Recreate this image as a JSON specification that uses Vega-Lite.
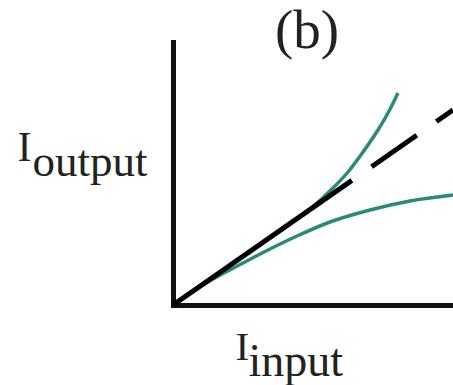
{
  "$schema": "https://vega.github.io/schema/vega-lite/v6.json",
  "width": 280,
  "height": 263,
  "autosize": {"type": "none"},
  "padding": {"left": 173, "top": 42, "right": 0, "bottom": 80},
  "background": "white",
  "title": {"text": "(b)", "font": "Liberation Serif", "fontSize": 55, "fontWeight": "normal", "color": "#222", "anchor": "middle", "frame": "group", "baseline": "alphabetic", "offset": 0, "dx": -6, "dy": 61},
  "config": {"view": {"stroke": null}},
  "datasets": {
    "curves": [
      {"curve": "gain", "x": 0, "y": 0},
      {"curve": "gain", "x": 40, "y": 28},
      {"curve": "gain", "x": 80, "y": 56},
      {"curve": "gain", "x": 120, "y": 83.5},
      {"curve": "gain", "x": 140, "y": 98.5},
      {"curve": "gain", "x": 160, "y": 117},
      {"curve": "gain", "x": 175, "y": 133},
      {"curve": "gain", "x": 190, "y": 153},
      {"curve": "gain", "x": 205, "y": 175},
      {"curve": "gain", "x": 215, "y": 192},
      {"curve": "gain", "x": 225, "y": 212},
      {"curve": "saturation", "x": 0, "y": 0},
      {"curve": "saturation", "x": 30, "y": 20},
      {"curve": "saturation", "x": 70, "y": 42},
      {"curve": "saturation", "x": 97, "y": 56},
      {"curve": "saturation", "x": 124, "y": 69},
      {"curve": "saturation", "x": 157, "y": 83},
      {"curve": "saturation", "x": 197, "y": 95},
      {"curve": "saturation", "x": 237, "y": 104},
      {"curve": "saturation", "x": 280, "y": 110},
      {"curve": "linear", "x": 0, "y": 0},
      {"curve": "linear", "x": 280, "y": 195}
    ]
  },
  "data": {"name": "curves"},
  "resolve": {"axis": {"x": "independent", "y": "independent"}},
  "layer": [
    {
      "transform": [{"filter": "datum.curve !== 'linear'"}],
      "mark": {"type": "line", "interpolate": "monotone", "color": "#2a8a78", "strokeWidth": 3.5, "clip": true},
      "encoding": {
        "detail": {"field": "curve"},
        "x": {
          "field": "x", "type": "quantitative",
          "scale": {"domain": [0, 280], "nice": false, "zero": true},
          "axis": {"orient": "bottom", "title": "input", "labels": false, "ticks": false, "grid": false, "domain": true, "domainColor": "#111", "domainWidth": 5, "domainCap": "square", "titleX": 75, "titleY": 70, "titleAlign": "left", "titleBaseline": "alphabetic", "titleAngle": 0, "titleFont": "Liberation Serif", "titleFontSize": 46, "titleFontWeight": "normal", "titleColor": "#222"}
        },
        "y": {
          "field": "y", "type": "quantitative",
          "scale": {"domain": [0, 263], "nice": false, "zero": true},
          "axis": {"orient": "left", "title": "output", "labels": false, "ticks": false, "grid": false, "domain": true, "domainColor": "#111", "domainWidth": 5, "domainCap": "square", "titleX": -141, "titleY": 133, "titleAlign": "left", "titleBaseline": "alphabetic", "titleAngle": 0, "titleFont": "Liberation Serif", "titleFontSize": 45, "titleFontWeight": "normal", "titleColor": "#222"}
        }
      }
    },
    {
      "transform": [{"filter": "datum.curve === 'linear'"}],
      "mark": {"type": "line", "color": "#000", "strokeWidth": 5, "strokeDash": [218, 24, 55, 24, 55, 24], "clip": true},
      "encoding": {
        "x": {
          "field": "x", "type": "quantitative",
          "axis": {"orient": "bottom", "title": "I", "labels": false, "ticks": false, "grid": false, "domain": false, "titleX": 62, "titleY": 54, "titleAlign": "left", "titleBaseline": "alphabetic", "titleAngle": 0, "titleFont": "Liberation Serif", "titleFontSize": 41, "titleFontWeight": "normal", "titleColor": "#222"}
        },
        "y": {
          "field": "y", "type": "quantitative",
          "axis": {"orient": "left", "title": "I", "labels": false, "ticks": false, "grid": false, "domain": false, "titleX": -156, "titleY": 118, "titleAlign": "left", "titleBaseline": "alphabetic", "titleAngle": 0, "titleFont": "Liberation Serif", "titleFontSize": 42, "titleFontWeight": "normal", "titleColor": "#222"}
        }
      }
    }
  ]
}
